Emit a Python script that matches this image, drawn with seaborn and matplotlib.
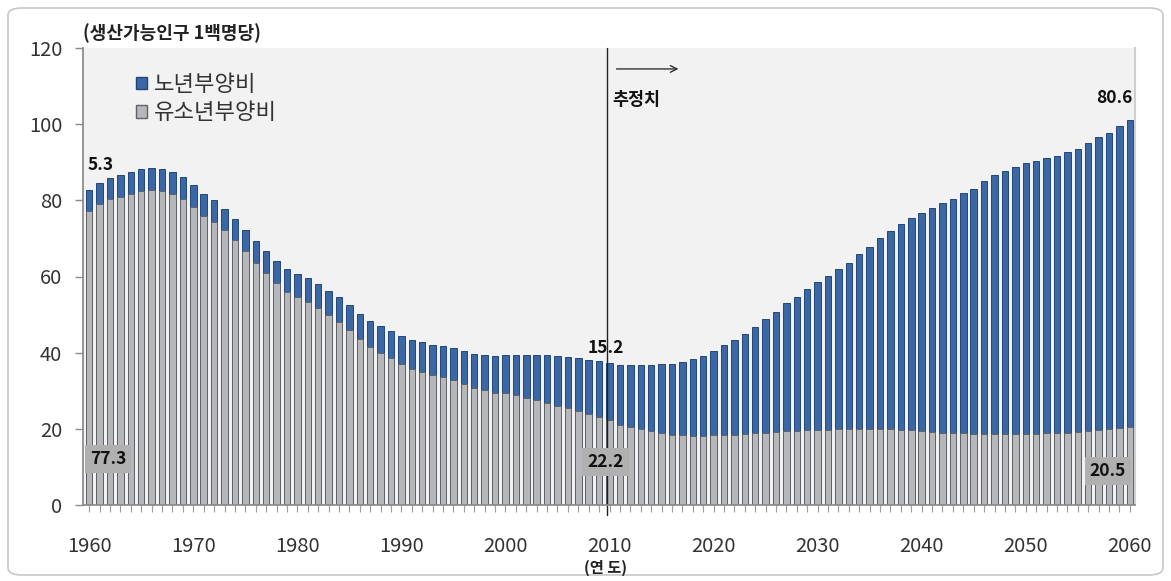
import matplotlib
matplotlib.use("Agg")
import matplotlib.pyplot as plt
from matplotlib.patches import Patch, FancyBboxPatch
from matplotlib.ticker import MultipleLocator
import seaborn as sns
import pandas as pd

years = list(range(1960, 2061))
youth = [77.3, 79.0, 80.4, 81.0, 81.7, 82.5, 82.7, 82.5, 81.7, 80.4,
         78.2, 76.0, 74.4, 72.2, 69.6, 66.7, 63.6, 60.8, 58.2, 56.0,
         54.6, 53.4, 51.6, 49.9, 48.1, 46.0, 43.5, 41.6, 40.0, 38.5,
         36.9, 35.6, 35.0, 34.1, 33.7, 32.8, 31.8, 30.6, 30.2, 29.5,
         29.4, 28.8, 28.0, 27.6, 26.9, 26.1, 25.4, 24.7, 23.8, 23.0,
         22.2, 21.0, 20.4, 19.9, 19.3, 19.0, 18.5, 18.3, 18.2, 18.2,
         18.4, 18.4, 18.5, 18.6, 18.8, 18.9, 19.1, 19.3, 19.5, 19.6,
         19.7, 19.8, 19.9, 20.0, 20.0, 20.0, 20.0, 19.9, 19.8, 19.6,
         19.4, 19.2, 19.0, 18.9, 18.8, 18.7, 18.7, 18.6, 18.6, 18.6,
         18.6, 18.7, 18.8, 18.9, 19.0, 19.2, 19.4, 19.7, 19.9, 20.2,
         20.5]
elderly = [5.3, 5.5, 5.5, 5.6, 5.7, 5.7, 5.8, 5.8, 5.8, 5.7,
           5.7, 5.7, 5.7, 5.6, 5.6, 5.6, 5.7, 5.8, 5.9, 6.0,
           6.1, 6.1, 6.3, 6.4, 6.4, 6.4, 6.6, 6.8, 6.9, 7.1,
           7.4, 7.6, 7.7, 8.0, 8.1, 8.3, 8.7, 9.0, 9.2, 9.6,
           10.1, 10.6, 11.3, 11.8, 12.4, 12.9, 13.4, 13.8, 14.3, 14.7,
           15.2, 15.8, 16.4, 16.9, 17.5, 18.0, 18.6, 19.3, 20.1, 20.9,
           22.1, 23.6, 24.8, 26.3, 28.0, 29.9, 31.6, 33.7, 35.2, 37.0,
           38.9, 40.3, 42.1, 43.6, 45.9, 47.8, 50.0, 52.1, 54.0, 55.8,
           57.2, 58.7, 60.2, 61.4, 63.1, 64.4, 66.3, 68.0, 69.2, 70.2,
           71.1, 71.7, 72.2, 72.7, 73.6, 74.3, 75.6, 76.8, 77.9, 79.2,
           80.6]
series_names = ["노년부양비", "유소년부양비"]
tick_years = list(range(1960, 2061, 10))

df = pd.DataFrame({"year": years, "youth": youth, "elderly": elderly})
df["total"] = df["youth"] + df["elderly"]

sns.set_theme(style="white")
plt.rcParams["font.family"] = ["Noto Sans CJK KR", "DejaVu Sans"]

BLUE = "#3c67a5"
BLUE_EDGE = "#22467a"
GRAY = "#b5b7ba"
GRAY_EDGE = "#606266"

fig = plt.figure(figsize=(11.71, 5.81), dpi=100)
ax = fig.add_axes([83 / 1171, 1 - 505 / 581, (1135 - 83) / 1171, (505 - 48) / 581])
ax.set_facecolor("#f2f2f2")

sns.barplot(data=df, x="year", y="total", native_scale=True, color=BLUE,
            saturation=1, width=0.62, edgecolor=BLUE_EDGE, linewidth=0.7, ax=ax)
sns.barplot(data=df, x="year", y="youth", native_scale=True, color=GRAY,
            saturation=1, width=0.62, edgecolor=GRAY_EDGE, linewidth=0.7, ax=ax)

ax.set_xlim(1959.4, 2060.5)
ax.set_ylim(0, 120)
ax.set_yticks(range(0, 121, 20))
ax.set_xticks(tick_years)
ax.set_xticklabels([str(y) for y in tick_years])
ax.xaxis.set_minor_locator(MultipleLocator(1))
ax.set_xlabel("")
ax.set_ylabel("")

ax.spines["top"].set_visible(False)
ax.spines["left"].set_color("#8a8a8a")
ax.spines["bottom"].set_color("#8a8a8a")
ax.spines["right"].set_color("#cfcfcf")
ax.spines["right"].set_linewidth(1.5)

ax.tick_params(axis="y", which="major", direction="out", length=6, width=1,
               color="#8a8a8a", left=True, labelsize=14.5, labelcolor="#333333", pad=9)
ax.tick_params(axis="x", which="both", direction="out", length=5, width=0.8,
               color="#9a9a9a", bottom=True)
ax.tick_params(axis="x", which="major", labelsize=14.5, labelcolor="#333333", pad=17)

# vertical separator for projections
ax.axvline(2009.75, ymin=-0.022, ymax=1.0, color="#222222", lw=1, clip_on=False)
ax.annotate("", xy=(2016.9, 114.5), xytext=(2010.4, 114.5),
            arrowprops=dict(arrowstyle="->", color="#333333", lw=1))
ax.text(2010.3, 106.4, "추정치", ha="left", va="center", fontsize=12.5,
        fontweight="bold", color="#111111")

# value annotations
box = dict(boxstyle="square,pad=0.3", fc="#b0b0b0", ec="none")
ax.text(1961.1, 89.3, "5.3", ha="center", va="center", fontsize=12.5, fontweight="bold", color="#111111")
ax.text(2009.6, 41.2, "15.2", ha="center", va="center", fontsize=12.5, fontweight="bold", color="#111111")
ax.text(2058.5, 106.9, "80.6", ha="center", va="center", fontsize=12.5, fontweight="bold", color="#111111")
ax.text(1961.8, 12.1, "77.3", ha="center", va="center", fontsize=12.5, fontweight="bold", color="#111111", bbox=box)
ax.text(2009.6, 11.3, "22.2", ha="center", va="center", fontsize=12.5, fontweight="bold", color="#111111", bbox=box)
ax.text(2057.9, 8.9, "20.5", ha="center", va="center", fontsize=12.5, fontweight="bold", color="#111111", bbox=box)

# legend
handles = [Patch(facecolor=BLUE, edgecolor=BLUE_EDGE), Patch(facecolor=GRAY, edgecolor=GRAY_EDGE)]
leg = ax.legend(handles, series_names, loc="upper left", bbox_to_anchor=(0.042, 0.965),
                frameon=False, fontsize=16, handlelength=0.5, handleheight=0.5,
                handletextpad=0.3, labelspacing=0.25, borderaxespad=0)
for t in leg.get_texts():
    t.set_color("#333333")

fig.text(83 / 1171, 1 - 33 / 581, "(생산가능인구 1백명당)", ha="left", va="center",
         fontsize=13, fontweight="bold", color="#222222")
fig.text(605 / 1171, 1 - 568 / 581, "(연 도)", ha="center", va="center",
         fontsize=11, fontweight="bold", color="#222222")

border = FancyBboxPatch((8 / 1171, 6 / 581), 1155 / 1171, 567 / 581,
                        boxstyle="round,pad=0,rounding_size=0.012",
                        transform=fig.transFigure, fc="none", ec="#c8c8c8", lw=1.2)
fig.patches.append(border)

fig.savefig("out.png", dpi=100)
